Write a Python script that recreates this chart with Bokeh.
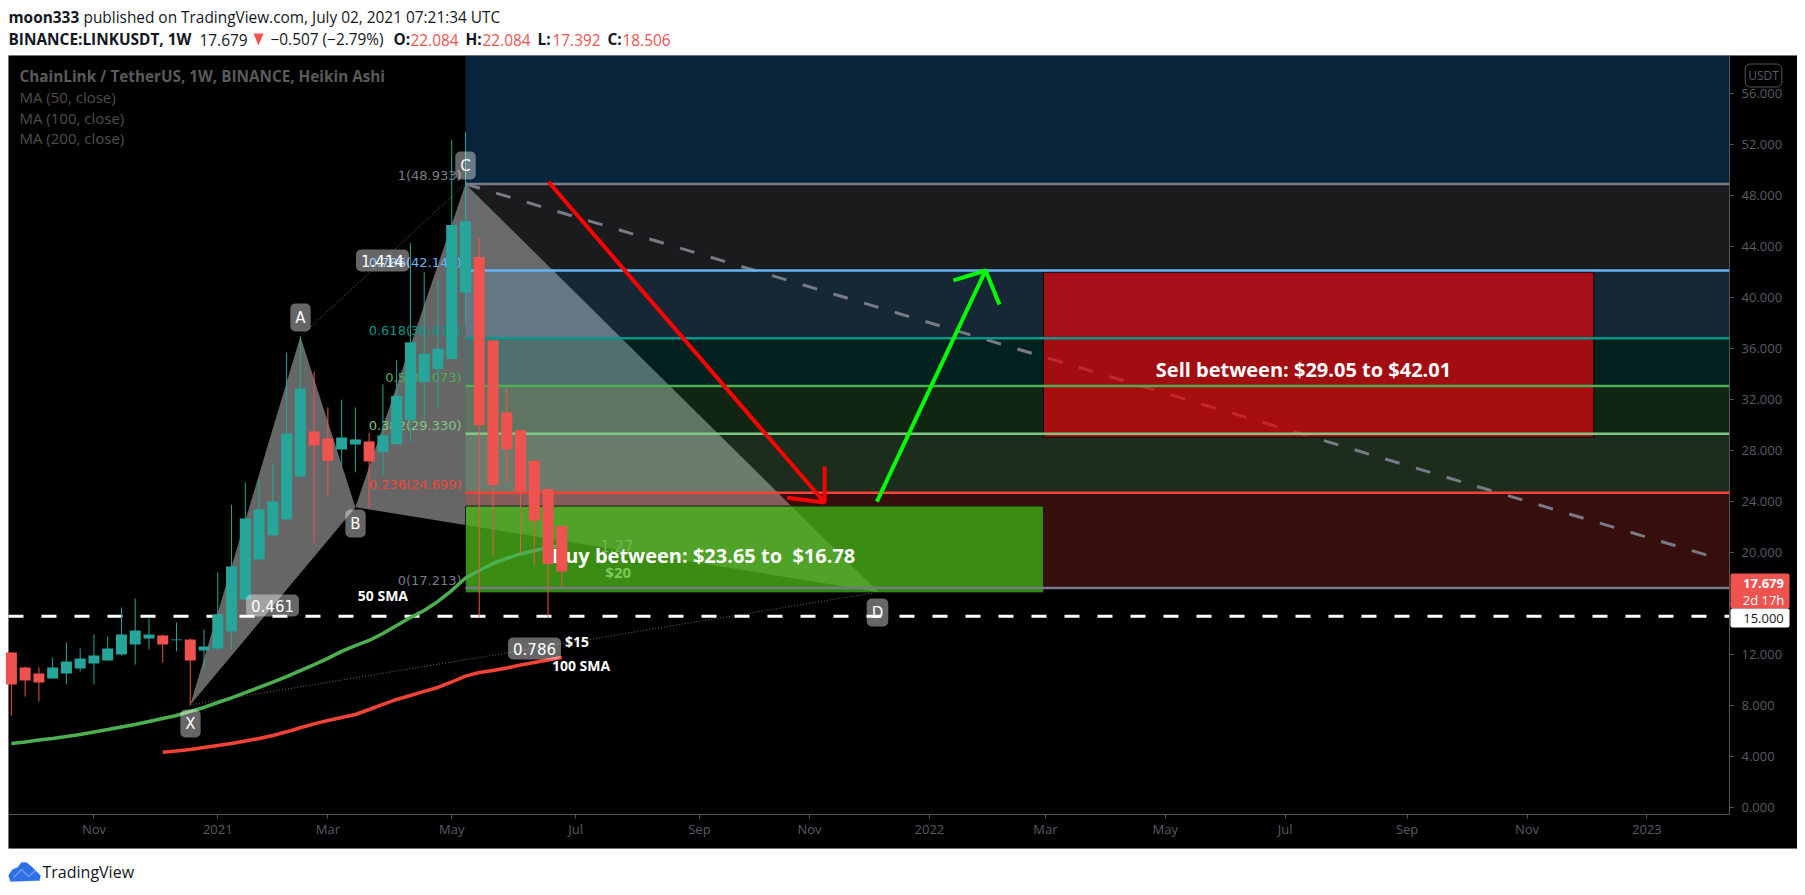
import pandas as pd
from bokeh.core.properties import value
from bokeh.embed import file_html
from bokeh.models import BoxAnnotation, FixedTicker, Label, PolyAnnotation
from bokeh.plotting import figure
from bokeh.resources import INLINE

# ---------- data ----------
candle_open = [12.16,10.98,10.51,10.12,10.51,10.90,11.29,11.53,12.00,12.78,13.26,13.49,13.12,13.18,12.31,12.47,13.81,16.32,19.46,21.34,22.60,25.97,29.50,28.95,28.09,28.48,28.72,27.90,28.50,30.40,33.40,34.40,35.20,40.40,43.20,36.65,31.00,29.60,27.20,25.00,22.084]
candle_high = [12.16,11.06,11.00,11.76,12.94,12.47,13.57,13.41,15.69,16.40,14.83,13.57,14.51,13.26,13.96,18.44,23.75,25.50,25.80,27.00,35.70,36.96,34.20,31.40,32.00,31.40,29.40,33.20,35.10,44.30,42.00,41.40,52.40,53.00,44.70,36.65,32.90,29.60,27.20,25.00,22.084]
candle_low = [7.20,8.70,8.31,10.12,9.65,10.67,9.65,11.53,11.92,11.20,12.39,11.37,12.24,8.05,10.74,12.31,12.39,16.32,19.46,21.34,22.60,25.97,20.70,24.50,26.80,26.30,23.50,26.10,28.50,28.70,30.40,31.30,35.20,37.80,14.90,19.60,25.50,19.90,19.00,14.90,17.392]
candle_close = [9.65,9.96,9.80,10.98,11.45,11.69,11.92,12.47,13.57,13.88,13.57,12.78,13.18,11.53,12.63,15.14,18.91,22.67,23.38,24.00,29.35,32.88,28.40,27.20,29.03,28.88,27.15,29.20,32.30,36.50,35.60,36.00,45.70,46.00,30.00,25.30,28.10,24.80,22.50,19.10,18.506]
sma50 = [5.01,5.13,5.29,5.41,5.56,5.72,5.92,6.11,6.31,6.50,6.74,6.98,7.21,7.53,7.84,8.23,8.60,9.00,9.42,9.83,10.27,10.73,11.20,11.69,12.24,12.70,13.10,13.65,14.28,14.90,15.45,16.16,17.02,18.00,18.59,19.14,19.54,19.89,20.16,20.40,20.55]
sma100 = [4.33,4.43,4.54,4.70,4.86,5.01,5.21,5.41,5.64,5.93,6.25,6.55,6.82,7.05,7.29,7.68,8.08,8.47,8.78,9.10,9.41,9.84,10.30,10.59,10.74,10.94,11.18,11.37,11.57,11.76]
fib_prices = [48.933, 42.145, 36.816, 33.073, 29.330, 24.699, 17.213]
fib_texts = ["1(48.933)", "0.786(42.145)", "0.618(36.816)", "0.5(33.073)", "0.382(29.330)", "0.236(24.699)", "0(17.213)"]
fib_colors = ["#787b86", "#64b5f6", "#009688", "#4caf50", "#81c784", "#f44336", "#787b86"]
band_colors = ["#787b86", "#64b5f6", "#009688", "#4caf50", "#81c784", "#f44336"]
pattern_names = ["X", "A", "B", "C", "D"]
pattern_weeks = [-2, 6, 10, 18, 48]
pattern_prices = [8.05, 36.96, 23.56, 48.93, 16.9]
ratio_texts = ["0.461", "1.414", "0.786"]
trend_weeks = [18, 108.8]
trend_prices = [48.93, 19.61]
red_arrow_weeks = [24.03, 44.1, 44.1, 44.1, 41.4]
red_arrow_prices = [49.1, 23.93, 26.76, 23.93, 24.3]
green_arrow_weeks = [47.9, 55.8, 53.47, 55.8, 56.8]
green_arrow_prices = [24.0, 42.14, 41.36, 42.14, 39.47]
buy_zone = [23.65, 16.85]
sell_zone = [42.01, 29.05]
zone_weeks = [18, 60, 100]
support = 15.0
price_ticks = list(range(0, 60, 4))
time_tick_dates = ["2020-11-02","2021-01-04","2021-03-01","2021-05-03","2021-07-05","2021-09-06","2021-11-01","2022-01-01","2022-03-01","2022-05-01","2022-07-01","2022-09-01","2022-11-01","2023-01-01"]
time_tick_labels = ["Nov","2021","Mar","May","Jul","Sep","Nov","2022","Mar","May","Jul","Sep","Nov","2023"]

# ---------- helpers ----------
ANCHOR = pd.Timestamp("2021-01-04")
MS_DAY = 86400000.0
def wk(w):
    return (ANCHOR - pd.Timestamp("1970-01-01")).days * MS_DAY + w * 7 * MS_DAY
def ms(s):
    return (pd.Timestamp(s) - pd.Timestamp("1970-01-01")).days * MS_DAY
H = 887
def sy(Y):
    return H - Y

FONT = "Open Sans"
VERD = "DejaVu Sans"
# the frame fills the whole canvas; the axes sit at fixed locations inside it
X0, X1 = wk(-15.79), wk(114.8)
Y0, Y1 = -6.29, 63.33
LEFT, RIGHT = wk(-15.21), wk(109.86)
BOTTOM, TOP = -0.56, 59.02

p = figure(width=1797, height=H, x_axis_type="datetime", y_axis_location="right",
           x_range=(X0, X1), y_range=(Y0, Y1), output_backend="svg", toolbar_location=None,
           min_border_left=0, min_border_right=0, min_border_top=0, min_border_bottom=0,
           background_fill_color="white", border_fill_color="white", outline_line_color=None)
p.grid.visible = False

ax = p.yaxis[0]
ax.ticker = FixedTicker(ticks=price_ticks)
ax.major_label_overrides = {t: f"{t:.3f}" for t in price_ticks}
ax.fixed_location = RIGHT
ax.bounds = (BOTTOM, TOP)
bx = p.xaxis[0]
bx.ticker = FixedTicker(ticks=[ms(d) for d in time_tick_dates])
bx.major_label_overrides = {ms(d): l for d, l in zip(time_tick_dates, time_tick_labels)}
bx.fixed_location = BOTTOM
bx.bounds = (LEFT, RIGHT)
for a in (ax, bx):
    a.axis_line_color = "#555555"
    a.major_tick_line_color = "#555555"
    a.major_tick_out = 4
    a.major_tick_in = 0
    a.minor_tick_line_color = None
    a.major_label_text_color = "#5a5b62"
    a.major_label_text_font = FONT
    a.major_label_text_font_size = "13px"
ax.major_label_standoff = 8
bx.major_label_standoff = 2

# black chart panel
p.add_layout(BoxAnnotation(left=8, right=1797, top=sy(55), bottom=sy(848),
                           left_units="screen", right_units="screen", top_units="screen", bottom_units="screen",
                           fill_color="black", fill_alpha=1, line_color="#555555", line_width=1, level="underlay"))

# harmonic pattern
wx = [wk(w) for w in pattern_weeks]
p.patch([wx[0], wx[1], wx[2]], pattern_prices[0:3], fill_color="white", fill_alpha=0.4, line_color=None)
p.patch([wx[2], wx[3], wx[4]], pattern_prices[2:5], fill_color="white", fill_alpha=0.4, line_color=None)
for a_, b_ in ((0, 2), (1, 3), (0, 4)):
    p.line([wx[a_], wx[b_]], [pattern_prices[a_], pattern_prices[b_]], line_color="#6a6a6a", line_width=1, line_dash="1 2")

# fibonacci bands
cstart = wk(zone_weeks[0])
p.quad(left=[cstart], right=[RIGHT], top=[TOP], bottom=[fib_prices[0]], fill_color="#2196f3", fill_alpha=0.24, line_color=None)
p.quad(left=[cstart]*6, right=[RIGHT]*6, top=fib_prices[:-1], bottom=fib_prices[1:], fill_color=band_colors, fill_alpha=0.22, line_color=None)
p.line([wk(w) for w in trend_weeks], trend_prices, line_color="#787b86", line_width=3, line_dash="15 17")

# zones
p.quad(left=[wk(zone_weeks[0])], right=[wk(zone_weeks[1])], top=[buy_zone[0]], bottom=[buy_zone[1]],
       fill_color="#3cbd16", fill_alpha=0.72, line_color="#1a1a1a", line_width=1)
p.quad(left=[wk(zone_weeks[1])], right=[wk(zone_weeks[2])], top=[sell_zone[0]], bottom=[sell_zone[1]],
       fill_color="#e0060d", fill_alpha=0.72, line_color="#0a0a0a", line_width=1)

# fib level lines
for pr, col in zip(fib_prices, fib_colors):
    p.line([cstart, RIGHT], [pr, pr], line_color=col, line_width=2.5)

# glyph-level texts (candles pass over them)
p.text(x=[cstart - 2*MS_DAY]*7, y=fib_prices, text=fib_texts, text_color=fib_colors,
       text_font=value(VERD), text_font_size="13px", text_align="right", text_baseline="middle", y_offset=-8)
def gtext(X_wk, price, txt, color, size, bold=True, font=FONT):
    p.text(x=[wk(X_wk)], y=[price], text=[txt], text_color=color, text_font=value(font), text_font_size=size,
           text_font_style="bold" if bold else "normal", text_align="center", text_baseline="middle")
gtext(35.3, 19.8, "Buy between: $23.65 to \u00a0$16.78", "white", "20px")
gtext(78.9, 34.33, "Sell between: $29.05 to $42.01", "white", "20px")
gtext(29.0, 20.55, "1.27", "#6db850", "15px", bold=False, font=VERD)
gtext(29.1, 18.5, "$20", "#7cc95c", "15px")
gtext(12.0, 16.65, "50 SMA", "white", "14px")
gtext(26.4, 11.15, "100 SMA", "white", "14px")
gtext(26.1, 13.05, "$15", "white", "14px")

# support line, moving averages
p.line([LEFT, RIGHT], [support, support], line_color="white", line_width=3, line_dash="15 18")
all_weeks = list(range(-15, 26))
p.line([wk(w) for w in all_weeks], sma50, line_color="#4caf50", line_width=3.5)
p.line([wk(w) for w in all_weeks[-len(sma100):]], sma100, line_color="#f44336", line_width=3.5)

# candles
xs = [wk(w) for w in all_weeks]
up = [c >= o for o, c in zip(candle_open, candle_close)]
cols = ["#26a69a" if u else "#ef5350" for u in up]
p.segment(xs, candle_high, xs, candle_low, line_color=cols, line_width=1)
p.vbar(x=xs, top=[max(o, c) for o, c in zip(candle_open, candle_close)],
       bottom=[min(o, c) for o, c in zip(candle_open, candle_close)],
       width=5.6*MS_DAY, fill_color=cols, line_color=None)

# arrows
p.line([wk(w) for w in red_arrow_weeks], red_arrow_prices, line_color="#ff0000", line_width=4)
p.line([wk(w) for w in green_arrow_weeks], green_arrow_prices, line_color="#00ff00", line_width=4)

# rounded labels on pattern
def tag(X, Y, txt, pad=5, size="15px"):
    p.add_layout(Label(x=X, y=sy(Y), x_units="screen", y_units="screen", text=txt, text_color="white",
                       text_font=VERD, text_font_size=size, text_align="center", text_baseline="middle",
                       background_fill_color="white", background_fill_alpha=0.4, border_radius=5, padding=pad))
for nm, XY in zip(pattern_names, [(190, 723), (300, 317), (355, 523), (465, 165), (877, 612)]):
    tag(XY[0], XY[1], nm)
for t, XY in zip(ratio_texts, [(272, 605), (382, 260), (534, 648)]):
    tag(XY[0], XY[1], t)

# plain labels in page coordinates
def lab(X, Y, txt, color, size="15.4px", bold=False, align="left", font=FONT):
    p.add_layout(Label(x=X, y=sy(Y), x_units="screen", y_units="screen", text=txt, text_color=color,
                       text_font=font, text_font_size=size, text_font_style="bold" if bold else "normal",
                       text_align=align, text_baseline="middle"))
lab(8, 17, "moon333", "#131722", bold=True)
lab(83, 17, "published on TradingView.com, July 02, 2021 07:21:34 UTC", "#131722")
lab(8, 39, "BINANCE:LINKUSDT, 1W", "#131722", bold=True)
lab(199, 39, "17.679", "#131722")
lab(270, 39, "\u22120.507 (\u22122.79%)", "#131722")
for XX, s in ((393, "O:"), (465, "H:"), (537, "L:"), (607, "C:")):
    lab(XX, 39, s, "#131722", bold=True)
for XX, s in ((410, "22.084"), (482, "22.084"), (552, "17.392"), (622, "18.506")):
    lab(XX, 39, s, "#ef5350")
p.add_layout(PolyAnnotation(xs=[253, 263, 258], ys=[sy(33), sy(33), sy(45)],
                            xs_units="screen", ys_units="screen", fill_color="#ef5350", fill_alpha=1, line_color=None))
lab(19, 75, "ChainLink / TetherUS, 1W, BINANCE, Heikin Ashi", "#5a5a5a", size="15.3px", bold=True)
lab(19, 96, "MA (50, close)", "#4e4e4e", size="15px")
lab(19, 117, "MA (100, close)", "#4e4e4e", size="15px")
lab(19, 137, "MA (200, close)", "#4e4e4e", size="15px")

# price badges on the scale
def box(L, R, T, B, color, radius=0):
    p.add_layout(BoxAnnotation(left=L, right=R, top=sy(T), bottom=sy(B),
                               left_units="screen", right_units="screen", top_units="screen", bottom_units="screen",
                               fill_color=color, fill_alpha=1, line_color=None, border_radius=radius))
box(1730, 1789, 573, 608, "#ef5350", 2)
box(1730, 1789, 608, 627, "white", 2)
lab(1763, 583, "17.679", "white", size="13px", bold=True, align="center")
lab(1763, 599, "2d 17h", "white", size="13px", align="center")
lab(1763, 618, "15.000", "#131722", size="13px", align="center")
p.add_layout(Label(x=1763, y=sy(75), x_units="screen", y_units="screen", text="USDT", text_color="#5a5b62",
                   text_font=FONT, text_font_size="12px", text_align="center", text_baseline="middle",
                   border_line_color="#555555", border_radius=5, padding=3))

# logo: blue cloud with a white zigzag, then the word mark
cloud_x = [8, 12, 17, 21, 26, 31, 35, 40, 39, 10]
cloud_y = [875, 869, 867, 862, 862, 866, 870, 875, 880, 881]
p.add_layout(PolyAnnotation(xs=cloud_x, ys=[sy(v) for v in cloud_y], xs_units="screen", ys_units="screen",
                            fill_color="#2f6fe8", fill_alpha=1, line_color="#2f6fe8", line_width=1))
zig_x = [13, 21, 28, 36, 28, 21]
zig_y = [877, 869, 876, 869, 876, 869]
p.add_layout(PolyAnnotation(xs=zig_x, ys=[sy(v) for v in zig_y], xs_units="screen", ys_units="screen",
                            fill_alpha=0, line_color="white", line_width=1.5))
lab(42, 871, "TradingView", "#131722", size="16px")

open("out.html", "w").write(file_html(p, INLINE))
